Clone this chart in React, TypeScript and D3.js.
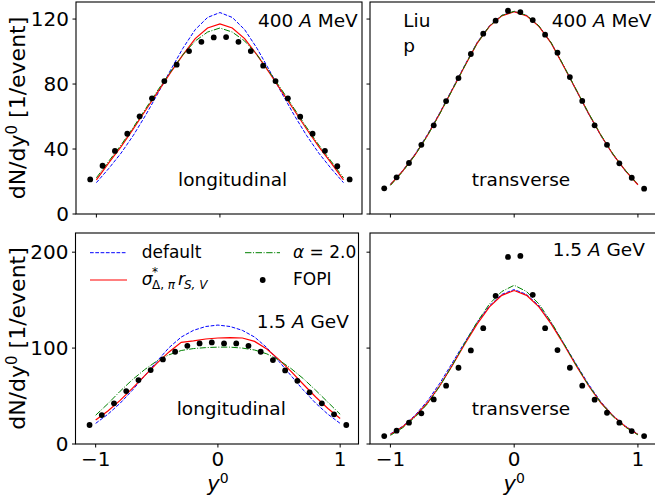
import React from "react";
import * as d3 from "d3";

// Rapidity grids: model curves and FOPI data points
const Y0_MODEL = [-1, -0.9, -0.8, -0.7, -0.6, -0.5, -0.4, -0.3, -0.2, -0.1, 0, 0.1, 0.2, 0.3, 0.4, 0.5, 0.6, 0.7, 0.8, 0.9, 1];
const Y0_FOPI = [-1.05, -0.95, -0.85, -0.75, -0.65, -0.55, -0.45, -0.35, -0.25, -0.15, -0.05, 0.05, 0.15, 0.25, 0.35, 0.45, 0.55, 0.65, 0.75, 0.85, 0.95, 1.05];

const X_TICKS = [-1, 0, 1];
const Y_TICKS_400 = [0, 40, 80, 120];
const Y_TICKS_1500 = [0, 100, 200];

// 400 A MeV, longitudinal
const L400_DEFAULT = [19.3, 28, 37.5, 48.5, 61, 74.5, 88.5, 102, 113.5, 121, 124, 121, 113.5, 102, 88.5, 74.5, 61, 48.5, 37.5, 28, 19.3];
const L400_SIGMA = [21, 31.5, 41.5, 52.5, 64, 75.5, 87, 98, 108, 114.5, 117, 114.5, 108, 98, 87, 75.5, 64, 52.5, 41.5, 31.5, 21];
const L400_ALPHA = [22.3, 32.5, 42.5, 53.5, 65, 76.5, 87.5, 98, 106.5, 112, 114.5, 112, 106.5, 98, 87.5, 76.5, 65, 53.5, 42.5, 32.5, 22.3];
const L400_FOPI = [21.3, 29.7, 38.8, 49.4, 60.1, 71.2, 81.8, 91.9, 100.3, 106.0, 108.7, 108.9, 106.0, 100.3, 91.3, 81.8, 71.2, 59.9, 49.4, 38.9, 29.4, 21.3];

// 400 A MeV, transverse
const T400_DEFAULT = [18.3, 26.8, 37, 49, 62.5, 77, 91.5, 105.5, 115.8, 122.3, 124.6, 122.2, 115.6, 105.2, 91, 76.3, 61.8, 48.3, 36.4, 26.4, 17.9];
const T400_SIGMA = [18, 26.5, 36.5, 48.5, 62, 76.5, 91, 105, 115.5, 122, 124.5, 122, 115.5, 105, 91, 76.5, 62, 48.5, 36.5, 26.5, 18];
const T400_ALPHA = [17.6, 26.2, 36.3, 48.3, 61.8, 76.3, 91, 105, 115.6, 122.2, 124.8, 122.3, 115.8, 105.3, 91.3, 76.8, 62.3, 48.8, 36.8, 26.8, 18.2];
const T400_FOPI = [15.8, 22.6, 31.4, 42.6, 54.6, 69.5, 83.7, 98.5, 111.0, 119.0, 125.1, 124.3, 119.4, 110.4, 99.3, 84.3, 69.6, 54.6, 42.6, 31.2, 22.3, 15.6];

// 1.5 A GeV, longitudinal
const L1500_DEFAULT = [21.5, 31, 42.5, 56, 71, 86, 100.5, 111.5, 118.5, 122.5, 124, 122.5, 118.5, 111.5, 100.5, 86, 71, 56, 42.5, 31, 21.5];
const L1500_SIGMA = [25, 34.5, 45.5, 58, 71, 84, 96, 106, 107.5, 109.5, 110.5, 111, 110.5, 107, 99, 88, 75.5, 62, 49, 37, 26.5];
const L1500_ALPHA = [30, 42, 55, 67, 77.5, 86.5, 93, 97.5, 99.5, 100.5, 101, 101, 100, 98, 94, 87.5, 78.5, 68, 56, 43.5, 31];
const L1500_FOPI = [19.8, 30.2, 42.4, 55.2, 66.7, 77.1, 88.2, 96.2, 102.4, 104.9, 105.9, 104.9, 104.9, 102.4, 96.2, 87.5, 76.7, 65.9, 53.9, 42.4, 30.9, 19.8];

// 1.5 A GeV, transverse
const T1500_DEFAULT = [10.5, 18.5, 30, 45, 63.5, 84.5, 106, 126.5, 144, 156, 161, 156, 144, 126, 105, 83.5, 62.5, 44, 29.5, 18.5, 10.5];
const T1500_SIGMA = [10, 18, 29, 43, 61, 82, 104, 125, 143, 155, 160, 155, 143, 125, 104, 82, 61, 43, 29, 18, 10];
const T1500_ALPHA = [9, 17, 28, 42, 60.5, 82, 105, 127, 146, 159, 165.5, 159, 146, 127, 105, 82.5, 61.5, 43, 28.5, 17.5, 9.5];
const T1500_FOPI = [8.3, 13.9, 22.2, 32.0, 46.5, 60.8, 79.5, 97.6, 120.8, 154.5, 195.1, 196.1, 155.5, 120.8, 97.9, 79.5, 60.8, 46.2, 32.6, 22.2, 13.5, 8.3];

const FONT = "DejaVu Sans";
const BLUE = "#0000ff";
const RED = "#ff0000";
const GREEN = "#008000";

type Note = { text: string; fx: number; fy: number; italicA?: boolean };

type PanelSpec = {
  left: number;
  right: number;
  top: number;
  bottom: number;
  yMax: number;
  yTicks: number[];
  yLabels: boolean;
  xLabels: boolean;
  def: number[];
  sig: number[];
  alpha: number[];
  fopi: number[];
  notes: Note[];
};

const X_DOMAIN: [number, number] = [-1.165, 1.15];

const PANELS: PanelSpec[] = [
  {
    left: 76, right: 362, top: 2, bottom: 214, yMax: 130.5, yTicks: Y_TICKS_400,
    yLabels: true, xLabels: false,
    def: L400_DEFAULT, sig: L400_SIGMA, alpha: L400_ALPHA, fopi: L400_FOPI,
    notes: [
      { text: "400 A MeV", fx: 258, fy: 26.7, italicA: true },
      { text: "longitudinal", fx: 178, fy: 186 },
    ],
  },
  {
    left: 370, right: 656.5, top: 2, bottom: 214, yMax: 130.5, yTicks: Y_TICKS_400,
    yLabels: false, xLabels: false,
    def: T400_DEFAULT, sig: T400_SIGMA, alpha: T400_ALPHA, fopi: T400_FOPI,
    notes: [
      { text: "Liu", fx: 403.3, fy: 26.7 },
      { text: "p", fx: 403.3, fy: 51.5 },
      { text: "400 A MeV", fx: 551.7, fy: 26.7, italicA: true },
      { text: "transverse", fx: 471.7, fy: 185.7 },
    ],
  },
  {
    left: 75.5, right: 358.5, top: 233, bottom: 444, yMax: 220, yTicks: Y_TICKS_1500,
    yLabels: true, xLabels: true,
    def: L1500_DEFAULT, sig: L1500_SIGMA, alpha: L1500_ALPHA, fopi: L1500_FOPI,
    notes: [
      { text: "1.5 A GeV", fx: 256.7, fy: 328, italicA: true },
      { text: "longitudinal", fx: 176.7, fy: 415 },
    ],
  },
  {
    left: 370, right: 656.5, top: 233, bottom: 444, yMax: 220, yTicks: Y_TICKS_1500,
    yLabels: false, xLabels: true,
    def: T1500_DEFAULT, sig: T1500_SIGMA, alpha: T1500_ALPHA, fopi: T1500_FOPI,
    notes: [
      { text: "1.5 A GeV", fx: 552.7, fy: 255.7, italicA: true },
      { text: "transverse", fx: 471.7, fy: 415 },
    ],
  },
];

function NoteText({ note }: { note: Note }) {
  if (!note.italicA) {
    return (
      <text x={note.fx} y={note.fy} fontSize={18.5} fontFamily={FONT} fill="#000">
        {note.text}
      </text>
    );
  }
  const [num, a, unit] = note.text.split(" ");
  return (
    <text x={note.fx} y={note.fy} fontSize={18.5} fontFamily={FONT} fill="#000" xmlSpace="preserve">
      <tspan>{num + " "}</tspan>
      <tspan fontStyle="italic">{a}</tspan>
      <tspan>{" " + unit}</tspan>
    </text>
  );
}

function Panel({ p, idx }: { p: PanelSpec; idx: number }) {
  const x = d3.scaleLinear().domain(X_DOMAIN).range([p.left, p.right]);
  const y = d3.scaleLinear().domain([0, p.yMax]).range([p.bottom, p.top]);
  const line = d3
    .line<number>()
    .x((_, i) => x(Y0_MODEL[i]))
    .y((v) => y(v));
  const clipId = `clip-${idx}`;
  const fmt = (v: number) => (v < 0 ? "\u2212" + Math.abs(v) : String(v));
  return (
    <g>
      <defs>
        <clipPath id={clipId}>
          <rect x={p.left} y={p.top} width={p.right - p.left} height={p.bottom - p.top} />
        </clipPath>
      </defs>
      <g clipPath={`url(#${clipId})`}>
        <path d={line(p.def) ?? ""} fill="none" stroke={BLUE} strokeWidth={1} strokeDasharray="3.7 1.6" />
        <path d={line(p.sig) ?? ""} fill="none" stroke={RED} strokeWidth={1.2} />
        <path d={line(p.alpha) ?? ""} fill="none" stroke={GREEN} strokeWidth={1} strokeDasharray="6.4 1.6 1 1.6" />
      </g>
      {p.fopi.map((v, i) => (
        <circle key={i} cx={x(Y0_FOPI[i])} cy={y(v)} r={2.9} fill="#000" />
      ))}
      <rect
        x={p.left}
        y={p.top}
        width={p.right - p.left}
        height={p.bottom - p.top}
        fill="none"
        stroke="#000"
        strokeWidth={1.1}
      />
      {p.yTicks.map((t) => (
        <g key={`y${t}`}>
          <line x1={p.left - 3.5} x2={p.left} y1={y(t)} y2={y(t)} stroke="#000" strokeWidth={1} />
          {p.yLabels && (
            <text x={p.left - 7} y={y(t) + 7.3} textAnchor="end" fontSize={20} fontFamily={FONT} fill="#000">
              {fmt(t)}
            </text>
          )}
        </g>
      ))}
      {X_TICKS.map((t) => (
        <g key={`x${t}`}>
          <line x1={x(t)} x2={x(t)} y1={p.bottom} y2={p.bottom + 3.5} stroke="#000" strokeWidth={1} />
          {p.xLabels && (
            <text x={x(t)} y={p.bottom + 22} textAnchor="middle" fontSize={20} fontFamily={FONT} fill="#000">
              {fmt(t)}
            </text>
          )}
        </g>
      ))}
      {p.yLabels && (
        <text
          transform={`translate(25,${(p.top + p.bottom) / 2}) rotate(-90)`}
          textAnchor="middle"
          fontSize={22}
          fontFamily={FONT}
          fill="#000"
        >
          <tspan>dN/dy</tspan>
          <tspan fontSize={15} dy={-8}>0</tspan>
          <tspan dy={8}> [1/event]</tspan>
        </text>
      )}
      {p.xLabels && (
        <text x={x(0)} y={490.5} textAnchor="middle" fontSize={21} fontFamily={FONT} fill="#000">
          <tspan fontStyle="italic">y</tspan>
          <tspan fontSize={14} dy={-8}>0</tspan>
        </text>
      )}
      {p.notes.map((n, i) => (
        <NoteText key={i} note={n} />
      ))}
    </g>
  );
}

function Legend() {
  const rowA = 252.7;
  const rowB = 280;
  const fs = 17;
  return (
    <g fontFamily={FONT} fill="#000">
      <line x1={90} x2={127} y1={rowA} y2={rowA} stroke={BLUE} strokeWidth={1} strokeDasharray="3.7 1.6" />
      <text x={141.7} y={rowA + 5} fontSize={fs}>default</text>
      <line x1={90} x2={127} y1={rowB} y2={rowB} stroke={RED} strokeWidth={1.2} />
      <text x={141.7} y={rowB + 5} fontSize={fs} fontStyle="italic">σ</text>
      <text x={152} y={rowB - 4} fontSize={12}>*</text>
      <text x={152} y={rowB + 9} fontSize={12}>
        <tspan>Δ, </tspan>
        <tspan fontStyle="italic">π</tspan>
      </text>
      <text x={178} y={rowB + 5} fontSize={fs} fontStyle="italic">r</text>
      <text x={184} y={rowB + 9} fontSize={12} fontStyle="italic">S, V</text>
      <line x1={245} x2={280} y1={rowA} y2={rowA} stroke={GREEN} strokeWidth={1} strokeDasharray="6.4 1.6 1 1.6" />
      <text x={293} y={rowA + 5} fontSize={fs}>
        <tspan fontStyle="italic">α</tspan>
        <tspan> = 2.0</tspan>
      </text>
      <circle cx={262.7} cy={rowB} r={2.9} fill="#000" />
      <text x={293} y={rowB + 5} fontSize={fs}>FOPI</text>
    </g>
  );
}

export default function App() {
  return (
    <svg
      width={655}
      height={499}
      viewBox="0 0 655 499"
      style={{ position: "absolute", left: 0, top: 0, background: "#fff" }}
    >
      <rect x={0} y={0} width={655} height={499} fill="#fff" />
      {PANELS.map((p, i) => (
        <Panel key={i} p={p} idx={i} />
      ))}
      <Legend />
    </svg>
  );
}
